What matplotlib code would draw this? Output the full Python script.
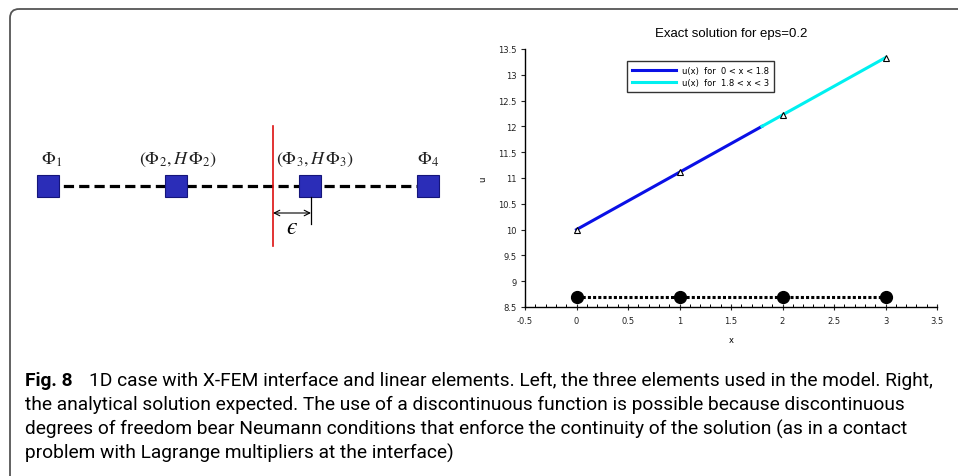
import numpy as np
import matplotlib.pyplot as plt
from matplotlib.patches import FancyBboxPatch

plt.rcParams['mathtext.fontset'] = 'stix'

# right panel data
x_blue = [0, 1.8]
u_blue = [10, 12]
x_cyan = [1.8, 3]
u_cyan = [12, 13.333]
x_nodes = [0, 1, 2, 3]
u_nodes = [10, 11.111, 12.222, 13.333]
u_mesh = [8.7, 8.7, 8.7, 8.7]
legend_labels = ['u(x)  for  0 < x < 1.8', 'u(x)  for  1.8 < x < 3']

# left sketch data (sketch units)
node_x = [48, 176, 310, 428]
node_labels = [r'$\Phi_1$', r'$\left(\Phi_2, H\,\Phi_2\right)$',
               r'$\left(\Phi_3, H\,\Phi_3\right)$', r'$\Phi_4$']
label_x = [52, 178, 315, 428]
interface_x = 273

caption_bold = 'Fig. 8'
caption_lines = [
    '1D case with X-FEM interface and linear elements. Left, the three elements used in the model. Right,',
    'the analytical solution expected. The use of a discontinuous function is possible because discontinuous',
    'degrees of freedom bear Neumann conditions that enforce the continuity of the solution (as in a contact',
    'problem with Lagrange multipliers at the interface)',
]

W, H = 958, 477
fig = plt.figure(figsize=(W / 100, H / 100), dpi=100)

# background axes in pixel units for the frame
bg = fig.add_axes([0, 0, 1, 1])
bg.set_xlim(0, W)
bg.set_ylim(H, 0)
bg.axis('off')
bg.add_patch(FancyBboxPatch((10, 10), W + 50, H + 50,
                            boxstyle='round,pad=0,rounding_size=9',
                            fill=False, edgecolor='#555555', lw=1.3,
                            clip_on=False))

# ---- left sketch ----
sk = fig.add_axes([0, 1 - 260 / H, 480 / W, 250 / H])
sk.set_xlim(0, 480)
sk.set_ylim(260, 10)
sk.axis('off')
sk.plot(node_x, [187] * 4, color='black', ls=(0, (3.2, 1.6)), lw=2.3, zorder=1)
sk.plot(node_x, [187] * 4, ls='none', marker='s', ms=16, mfc='#2b2db8',
        mec='#15157a', mew=0.8, zorder=2)
for lx, lab in zip(label_x, node_labels):
    sk.text(lx, 160, lab, ha='center', va='center', fontsize=13, color='#222222')
sk.plot([interface_x, interface_x], [127, 247], color='#dd1111', lw=1.2, zorder=3)
sk.plot([node_x[2] + 1, node_x[2] + 1], [198, 225], color='black', lw=0.9)
sk.annotate('', xy=(interface_x, 214), xytext=(node_x[2] + 1, 214),
            arrowprops=dict(arrowstyle='<->', lw=0.8, color='black',
                            shrinkA=0, shrinkB=0))
sk.text(292, 228, '\u03f5', ha='center', va='center', fontsize=17,
        family=['STIXGeneral', 'DejaVu Serif'], style='italic')

# ---- right plot ----
ax = fig.add_axes([525 / W, 1 - 308 / H, 412 / W, 258 / H])
ax.plot(x_blue, u_blue, color='#0a10e6', lw=2.2, label=legend_labels[0])
ax.plot(x_cyan, u_cyan, color='#00f0f0', lw=2.2, label=legend_labels[1])
ax.plot(x_nodes, u_nodes, ls='none', marker='^', ms=4, mfc='white',
        mec='black', mew=0.8)
ax.plot(x_nodes, u_mesh, color='black', ls=(0, (1, 0.7)), lw=2.2,
        marker='o', ms=8.5, mfc='black', mec='black')
ax.set_xlim(-0.5, 3.5)
ax.set_ylim(8.5, 13.5)
ax.set_xticks(np.arange(-0.5, 3.51, 0.5))
ax.set_xticks(np.arange(-0.5, 3.51, 0.1), minor=True)
ax.set_yticks(np.arange(8.5, 13.51, 0.5))
ax.set_xticklabels(['%g' % v for v in np.arange(-0.5, 3.51, 0.5)])
ax.set_yticklabels(['%g' % v for v in np.arange(8.5, 13.51, 0.5)])
for s in ['top', 'right']:
    ax.spines[s].set_visible(False)
for s in ['left', 'bottom']:
    ax.spines[s].set_linewidth(1.0)
ax.tick_params(axis='both', labelsize=6, colors='#222222', width=0.8)
ax.tick_params(axis='x', which='major', direction='inout', length=5, pad=4)
ax.tick_params(axis='x', which='minor', direction='in', length=2.5, width=0.7)
ax.tick_params(axis='y', direction='out', length=3, pad=3)
ax.set_xlabel('x', fontsize=6, labelpad=7)
ax.set_ylabel('u', fontsize=6, labelpad=8)
ax.set_title('Exact solution for eps=0.2', fontsize=9.5, pad=9,
             family=['Liberation Sans', 'DejaVu Sans'])
leg = ax.legend(loc='upper left', bbox_to_anchor=(0.248, 0.955), fontsize=6,
                frameon=True, fancybox=False, edgecolor='black',
                handlelength=5.2, borderaxespad=0, borderpad=0.6,
                labelspacing=0.4)
leg.get_frame().set_linewidth(1.0)

# ---- caption ----
cap_font = ['Roboto', 'DejaVu Sans']
cap_size = 13.8
fig.text(25 / W, 1 - 381 / H, caption_bold, fontsize=cap_size, weight='bold',
         family=cap_font, va='center', ha='left')
fig.text(89 / W, 1 - 381 / H, caption_lines[0], fontsize=cap_size,
         family=cap_font, va='center', ha='left')
for i, line in enumerate(caption_lines[1:]):
    fig.text(25 / W, 1 - (405 + 24 * i) / H, line, fontsize=cap_size,
             family=cap_font, va='center', ha='left')

fig.savefig('out.png', dpi=100)
